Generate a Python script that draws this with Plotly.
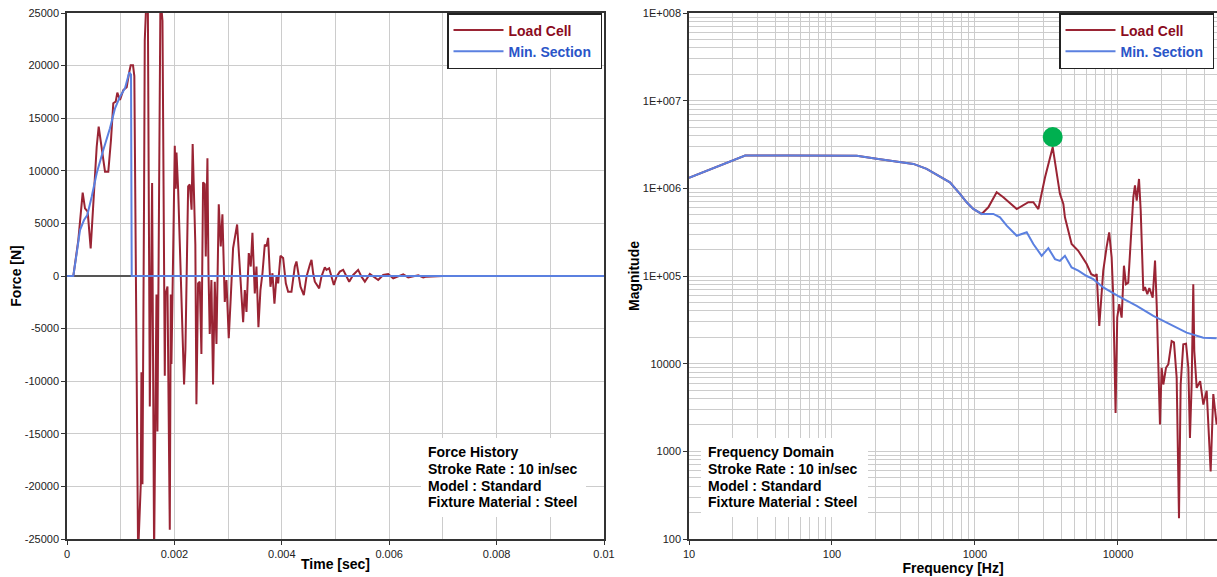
import plotly.graph_objects as go

# ---------------- Force history (time domain) ----------------
time_load_cell = [
    0, 0.00002, 0.000118, 0.000211, 0.000292, 0.000335, 0.000385, 0.000441,
    0.00049, 0.000553, 0.00059, 0.000646, 0.000708, 0.000769, 0.000819,
    0.000862, 0.000907, 0.000937, 0.000987, 0.001049, 0.001112, 0.001155,
    0.001186, 0.001229, 0.001254,
    0.001324, 0.001374, 0.001386, 0.001405, 0.001436, 0.001448, 0.00148,
    0.001505, 0.001542, 0.001585, 0.001622, 0.001666, 0.001684, 0.00174,
    0.001778, 0.001802, 0.001821, 0.001834, 0.001871, 0.001914, 0.001933,
    0.001945, 0.002007, 0.002025, 0.002039, 0.00207, 0.00218, 0.002205,
    0.002256, 0.002287, 0.00232, 0.00234, 0.002368, 0.00239, 0.00241,
    0.002441, 0.002472, 0.002503, 0.002534, 0.002565, 0.002584, 0.002615,
    0.002634, 0.002658, 0.002689, 0.00272, 0.002752, 0.002783, 0.002826,
    0.002863, 0.002894, 0.002938, 0.002969, 0.003012, 0.00305, 0.003093,
    0.003168, 0.003217, 0.003248, 0.00328, 0.003311, 0.003342, 0.003385,
    0.003422, 0.003453, 0.003497, 0.003528, 0.003565, 0.003602, 0.00364,
    0.003683, 0.003714, 0.003745, 0.003789, 0.003826, 0.003863, 0.003901,
    0.003932, 0.003975, 0.004025, 0.004075, 0.004118, 0.00418, 0.004242,
    0.004273, 0.004304, 0.004348, 0.00441, 0.00446, 0.004522, 0.004553,
    0.004584, 0.004615, 0.004696, 0.004739, 0.004801, 0.004832, 0.004882,
    0.004925, 0.004969, 0.005019, 0.005081, 0.005143, 0.005205, 0.005255,
    0.005329, 0.005422, 0.005484, 0.005547, 0.00564, 0.005702, 0.005795,
    0.005888, 0.005981, 0.006075, 0.006168, 0.006261, 0.006354, 0.006447,
    0.006541, 0.006634, 0.006696, 0.0070, 0.01,
]
force_load_cell = [
    0, 0, 0, 3420, 7920, 6430, 6110, 2630,
    7220, 12290, 14190, 12200, 9920, 9920, 12930,
    16420, 16580, 17430, 16730, 17680, 17940, 19270,
    20030, 20030, 19000,
    -26500, -19770, -9160, -19800, 8500, 22400, 26500,
    26500, -12400, 8840, -26500, -1770, -14790, 26500,
    24270, 480, -9480, -1770, -1000, -24110, -1770,
    -8360, 12380, 8300, 11730, 8200, -10300, -7000,
    8520, 8700, 6300, 12540, 6270, 3000, -12200,
    -700, -540, -7420, 8900, 8740, 1860, 11200,
    580, -5500, -380, -10300, -540, -6460, 6820,
    2820, 5860, -2460, -380, -5920, -1980, 2660,
    4900, 1220, -1660, -4380, -1340, -3420, 2180,
    900, 4100, -1660, 900, -4860, -1340, 260,
    2980, 2820, 3620, -1020, 260, -2620, -60,
    -700, 1920, 1700, -700, -1500, -1500, 900,
    1380, 260, -1020, -1820, -60, 1060, 1540,
    260, -540, -1180, -60, 830, 580, 740,
    -60, -860, -60, 420, 580, -60, -540,
    100, 580, -60, -540, 190, -60, -380,
    100, 190, -220, -60, 160, -130, -60,
    60, -130, -60, 0, 0,
]

time_min_section = [
    0, 0.00002, 0.000118, 0.00018, 0.000242, 0.000317, 0.000378, 0.00046,
    0.000553, 0.000676, 0.0008, 0.000894, 0.000987, 0.00108, 0.00116,
    0.001192, 0.001205, 0.01,
]
force_min_section = [
    0, 0, 0, 2150, 4370, 5320, 5800, 7540,
    9760, 11980, 14040, 15940, 17050, 17850, 19360,
    19140, 0, 0,
]

# ---------------- Frequency domain ----------------
freq_load_cell = [
    10, 24.7, 50.8, 100, 149, 205, 283, 299, 371, 459, 553, 668, 785, 875,
    973, 1114, 1240, 1418, 1578, 1959, 2361, 2559, 2774, 3090, 3495, 3828,
    3926, 4149, 4257, 4740, 5276, 6040, 6500, 6905, 7100, 7400, 7690, 7890,
    8320, 8680, 9030, 9270, 9620, 9880, 10200, 10610, 11010, 11370, 11800,
    12270, 12800, 13150, 13520, 14030, 14420, 15040, 15450, 16040, 16570,
    17490, 18160, 18660, 19150, 19660, 20200, 20750, 21670, 22490, 23730,
    24640, 25730, 26710, 27440, 28620, 29920, 31050, 31870, 32750, 33620,
    34170, 35520, 37560, 39540, 41720, 44470, 46410, 49000,
]
mag_load_cell = [
    1.32e6, 2.37e6, 2.37e6, 2.36e6, 2.35e6, 2.17e6, 2.03e6, 2.0e6, 1.9e6,
    1.67e6, 1.4e6, 1.17e6, 8.65e5, 6.93e5,
    5.82e5, 5.1e5, 6.08e5, 9.03e5, 7.9e5, 5.8e5, 6.94e5, 6.94e5, 5.8e5,
    1.34e6, 2.95e6, 1.23e6,
    8.65e5, 6.64e5, 4.67e5, 2.32e5, 1.94e5, 1.37e5, 1.05e5, 1.0e5, 1.05e5,
    2.69e4, 5.67e4, 1.15e5,
    2.12e5, 3.15e5, 1.63e5, 5.67e4, 2.74e3, 3.35e4, 4.77e4, 3.35e4, 1.31e5,
    8.07e4, 8.4e4,
    2.32e5, 7.9e5, 1.08e6, 7.25e5, 1.28e6, 5.58e5, 6.77e4, 7.5e4, 6.2e4,
    7.3e4,
    5.67e4, 1.5e5, 4.6e4, 1.17e4, 2.02e3, 8.98e3, 5.79e3, 8.98e3, 9.8e3,
    1.81e4,
    1.75e4, 6.9e3, 173, 5.79e3, 1.66e4, 1.69e4, 8.98e3, 1.42e3, 5.79e3,
    8.07e4,
    1.4e4, 5.3e3, 6.3e3, 3.42e3, 4.9e3, 590, 4.5e3, 2.02e3,
]

freq_min_section = [
    10, 24.7, 50.8, 100, 149, 205, 283, 299, 371, 459, 553, 668, 785, 875,
    973, 1114, 1343, 1496, 1667, 1959, 2300, 2559, 2926, 3258, 3626, 3926,
    4257, 4740, 5276, 6040, 6716, 7890, 10050, 13520, 17670, 23120, 30200,
    39540, 49000,
]
mag_min_section = [
    1.32e6, 2.37e6, 2.37e6, 2.36e6, 2.35e6, 2.17e6, 2.03e6, 2.0e6, 1.9e6,
    1.67e6, 1.4e6, 1.17e6, 8.65e5, 6.93e5,
    5.82e5, 5.1e5, 5.1e5, 4.67e5, 3.75e5, 2.88e5, 3.15e5, 2.32e5, 1.7e5,
    2.08e5, 1.56e5, 1.49e5,
    1.7e5, 1.25e5, 1.15e5, 1.0e5, 9.2e4, 7.4e4, 5.9e4, 4.56e4, 3.5e4,
    2.82e4, 2.26e4,
    1.98e4, 1.95e4,
]

peak_freq = [3495]
peak_mag = [3.85e6]

# ---------------- Tick labels ----------------
force_ticks = [-25000, -20000, -15000, -10000, -5000, 0, 5000, 10000, 15000, 20000, 25000]
force_tick_text = ["-25000", "-20000", "-15000", "-10000", "-5000", "0",
                   "5000", "10000", "15000", "20000", "25000"]
time_ticks = [0, 0.002, 0.004, 0.006, 0.008, 0.01]
time_tick_text = ["0", "0.002", "0.004", "0.006", "0.008", "0.01"]
mag_ticks = [100, 1000, 10000, 1e5, 1e6, 1e7, 1e8]
mag_tick_text = ["100", "1000", "10000", "1E+005", "1E+006", "1E+007", "1E+008"]
freq_ticks = [10, 100, 1000, 10000]
freq_tick_text = ["10", "100", "1000", "10000"]

info_time = ["Force History", "Stroke Rate : 10 in/sec", "Model : Standard",
             "Fixture Material : Steel"]
info_freq = ["Frequency Domain", "Stroke Rate : 10 in/sec", "Model : Standard",
             "Fixture Material : Steel"]

# ---------------- Styling ----------------
FONT = "Liberation Sans, Arial, sans-serif"
RED = "#9a2434"
BLUE = "#5b80e0"
RED_TXT = "#8b0c1e"
BLUE_TXT = "#2a55c8"
GRID = "#cccccc"
AXIS = "#333333"
W, H = 1217, 577


def px_x(p):
    return p / W


def px_y(p):
    return 1 - p / H


def legend_name(text, color):
    # trailing non-breaking space gives the legend box some right padding
    return f"<span style='color:{color}'><b>{text}</b></span>\u00a0"


fig = go.Figure()

fig.add_trace(go.Scatter(
    x=time_load_cell, y=force_load_cell, mode="lines",
    line=dict(color=RED, width=2), name=legend_name("Load Cell", RED_TXT),
    xaxis="x", yaxis="y", legend="legend"))
fig.add_trace(go.Scatter(
    x=time_min_section, y=force_min_section, mode="lines",
    line=dict(color=BLUE, width=2), name=legend_name("Min. Section", BLUE_TXT),
    xaxis="x", yaxis="y", legend="legend"))

fig.add_trace(go.Scatter(
    x=freq_load_cell, y=mag_load_cell, mode="lines",
    line=dict(color=RED, width=2), name=legend_name("Load Cell", RED_TXT),
    xaxis="x2", yaxis="y2", legend="legend2"))
fig.add_trace(go.Scatter(
    x=freq_min_section, y=mag_min_section, mode="lines",
    line=dict(color=BLUE, width=2), name=legend_name("Min. Section", BLUE_TXT),
    xaxis="x2", yaxis="y2", legend="legend2"))
fig.add_trace(go.Scatter(
    x=peak_freq, y=peak_mag, mode="markers",
    marker=dict(color="#00b050", size=20), showlegend=False,
    xaxis="x2", yaxis="y2"))

y_domain = [px_y(539), px_y(13)]
tick_font = dict(family=FONT, size=11, color="#222222")
title_font = dict(family=FONT, size=14, color="#000000")

common_axis = dict(
    showline=True, linecolor=AXIS, linewidth=1.5, mirror=True,
    showgrid=True, gridcolor=GRID, gridwidth=1, automargin=False,
    ticks="outside", ticklen=4, tickcolor=AXIS, tickwidth=1,
    tickfont=tick_font, tickmode="array",
)

decade_minors_x = [m * 10 ** e for e in range(1, 5) for m in range(2, 10) if m * 10 ** e <= 50000]
decade_minors_y = [m * 10 ** e for e in range(2, 8) for m in range(2, 10)]

fig.update_layout(
    template="none",
    width=W, height=H,
    margin=dict(l=0, r=0, t=0, b=0, autoexpand=False),
    paper_bgcolor="white", plot_bgcolor="white",
    font=dict(family=FONT, color="#222222"),
    showlegend=True,
    xaxis=dict(
        **common_axis, domain=[px_x(67), px_x(604)], anchor="y",
        range=[0, 0.01], tickvals=time_ticks, ticktext=time_tick_text,
        minor=dict(dtick=0.001, tick0=0, showgrid=True, gridcolor=GRID, ticks=""),
        zeroline=False,
        title=dict(text="<b>Time [sec]</b>", font=title_font, standoff=0),
    ),
    yaxis=dict(
        **common_axis, domain=y_domain, anchor="x",
        range=[-25000, 25000], tickvals=force_ticks, ticktext=force_tick_text,
        zeroline=True, zerolinecolor="#555555", zerolinewidth=1.5,
        title=dict(text="<b>Force [N]</b>", font=title_font, standoff=0),
    ),
    xaxis2=dict(
        **common_axis, domain=[px_x(689), 1.0], anchor="y2",
        type="log", range=[1, 4.6925], tickvals=freq_ticks, ticktext=freq_tick_text,
        minor=dict(tickmode="array", tickvals=decade_minors_x, showgrid=True,
                   gridcolor=GRID, ticks=""),
        zeroline=False,
        title=dict(text="<b>Frequency [Hz]</b>", font=title_font, standoff=0),
    ),
    yaxis2=dict(
        **common_axis, domain=y_domain, anchor="x2",
        type="log", range=[2, 8], tickvals=mag_ticks, ticktext=mag_tick_text,
        minor=dict(tickmode="array", tickvals=decade_minors_y, showgrid=True,
                   gridcolor=GRID, ticks=""),
        zeroline=False,
        title=dict(text="<b>Magnitude</b>", font=title_font, standoff=0),
    ),
    legend=dict(
        x=px_x(602), xanchor="right", y=px_y(13), yanchor="top",
        bgcolor="white", bordercolor="#222222", borderwidth=1.5,
        font=dict(family=FONT, size=14), itemwidth=50, tracegroupgap=0,
    ),
    legend2=dict(
        x=px_x(1214), xanchor="right", y=px_y(13), yanchor="top",
        bgcolor="white", bordercolor="#222222", borderwidth=1.5,
        font=dict(family=FONT, size=14), itemwidth=50, tracegroupgap=0,
    ),
)

# White label panels with one annotation per text line
line_centres = [452.3, 469, 485.7, 502.3]
for left, right, lines in ((421, 586, info_time), (701, 868, info_freq)):
    fig.add_shape(type="rect", xref="paper", yref="paper",
                  x0=px_x(left), x1=px_x(right), y0=px_y(517), y1=px_y(438),
                  fillcolor="white", line=dict(width=0), layer="above")
    for yc, s in zip(line_centres, lines):
        fig.add_annotation(
            text=f"<b>{s}</b>", xref="paper", yref="paper",
            x=px_x(left + 6), y=px_y(yc), xanchor="left", yanchor="middle",
            showarrow=False, borderpad=0,
            font=dict(family=FONT, size=14, color="#000000"))

fig.write_html("out.html")
